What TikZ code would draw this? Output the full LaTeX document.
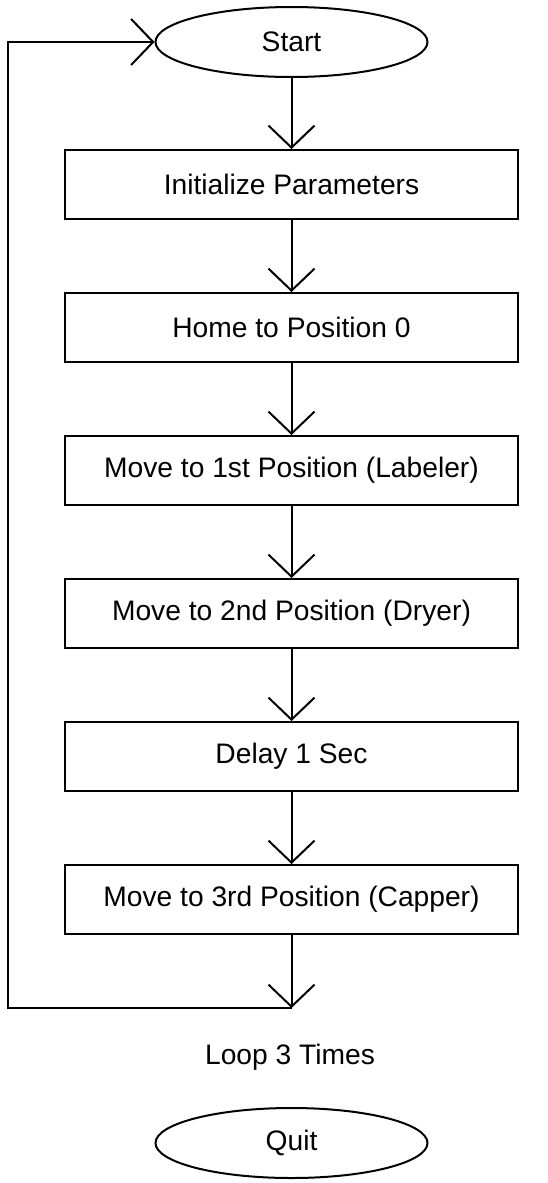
\documentclass[tikz,border=0pt]{standalone}
\usepackage{fontspec}
\setmainfont{Liberation Sans}
\usepackage{tikz}
\usetikzlibrary{arrows.meta,calc,positioning,shapes.geometric}

\begin{document}
\begin{tikzpicture}[
  x=1pt, y=-1pt,
  font=\fontsize{28.2}{34}\selectfont,
  node distance=72pt,
  stepbox/.style={draw=black, line width=2pt, minimum width=453pt, minimum height=69pt, inner sep=0pt},
  term/.style={ellipse, draw=black, line width=2pt, minimum width=272pt, minimum height=70pt, inner sep=0pt},
  arr/.style={-{Straight Barb[length=22pt, width=46pt]}, line width=2pt},
]
  \useasboundingbox (0,0) rectangle (548,1183);

  \node[term] (start) at (291.5,42) {Start};
  \node[stepbox, below=71pt of start] (init) {Initialize Parameters};
  \node[stepbox, below=of init] (home) {Home to Position 0};
  \node[stepbox, below=of home] (labeler) {Move to 1st Position (Labeler)};
  \node[stepbox, below=of labeler] (dryer) {Move to 2nd Position (Dryer)};
  \node[stepbox, below=of dryer] (delay) {Delay 1 Sec};
  \node[stepbox, below=of delay] (capper) {Move to 3rd Position (Capper)};

  \draw[arr] (start) -- (init);
  \draw[arr] (init) -- (home);
  \draw[arr] (home) -- (labeler);
  \draw[arr] (labeler) -- (dryer);
  \draw[arr] (dryer) -- (delay);
  \draw[arr] (delay) -- (capper);

  % loop back to start
  \coordinate (loopend) at (291.5,1008);
  \coordinate (loopleft) at (8,1008);
  \draw[arr] (capper) -- (loopend);
  \draw[arr] (loopend) -- (loopleft) |- (start.west);

  \node (times) at (290,1057) {Loop 3 Times};
  \node[term] (quit) at (291.5,1143) {Quit};
\end{tikzpicture}
\end{document}
